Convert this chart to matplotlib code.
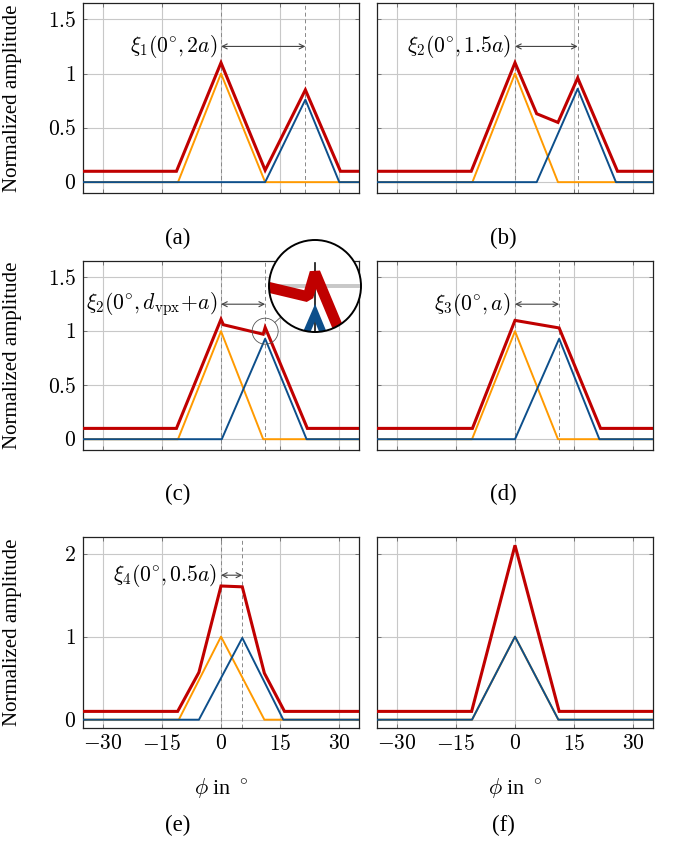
import numpy as np
import matplotlib
matplotlib.use("Agg")
import matplotlib.pyplot as plt
from matplotlib.patches import Circle
from matplotlib.lines import Line2D

plt.rcParams['font.family'] = ['Liberation Serif', 'DejaVu Serif']
plt.rcParams['mathtext.fontset'] = 'cm'
plt.rcParams['font.size'] = 15

RED = '#c00000'
BLUE = '#0d4f8b'
ORANGE = '#ff9a00'
GRID = '#c8c8c8'

# --- data (phi in degrees, normalized amplitude) ---
# (a)
phi_or_a = [-35, -10.9, 0, 11.2, 35]
amp_or_a = [0, 0, 1, 0, 0]
phi_bl_a = [-35, 11.2, 21.4, 30.0, 35]
amp_bl_a = [0, 0, 0.76, 0, 0]
phi_rd_a = [-35, -11.3, 0, 11.2, 21.4, 30.3, 35]
amp_rd_a = [0.1, 0.1, 1.1, 0.11, 0.85, 0.1, 0.1]
# (b)
phi_or_b = [-35, -10.8, 0, 10.9, 35]
amp_or_b = [0, 0, 1, 0, 0]
phi_bl_b = [-35, 5.5, 15.9, 25.6, 35]
amp_bl_b = [0, 0, 0.86, 0, 0]
phi_rd_b = [-35, -11.1, 0, 5.5, 10.9, 15.9, 26.0, 35]
amp_rd_b = [0.1, 0.1, 1.1, 0.63, 0.55, 0.96, 0.1, 0.1]
# (c)
phi_or_c = [-35, -10.9, 0, 10.7, 35]
amp_or_c = [0, 0, 1, 0, 0]
phi_bl_c = [-35, 0.2, 11.2, 21.7, 35]
amp_bl_c = [0, 0, 0.93, 0, 0]
phi_rd_c = [-35, -11.3, 0, 0.6, 10.7, 11.2, 21.9, 35]
amp_rd_c = [0.1, 0.1, 1.11, 1.06, 0.972, 1.035, 0.1, 0.1]
# (d)
phi_or_d = [-35, -10.9, 0, 10.9, 35]
amp_or_d = [0, 0, 1, 0, 0]
phi_bl_d = [-35, 0, 11.2, 21.4, 35]
amp_bl_d = [0, 0, 0.93, 0, 0]
phi_rd_d = [-35, -10.8, 0, 11.2, 21.7, 35]
amp_rd_d = [0.1, 0.1, 1.1, 1.03, 0.1, 0.1]
# (e)
phi_or_e = [-35, -10.7, 0, 11.0, 35]
amp_or_e = [0, 0, 1, 0, 0]
phi_bl_e = [-35, -5.6, 5.4, 15.8, 35]
amp_bl_e = [0, 0, 0.985, 0, 0]
phi_rd_e = [-35, -11.0, -5.6, 0, 5.4, 11.0, 16.1, 35]
amp_rd_e = [0.1, 0.1, 0.57, 1.61, 1.6, 0.56, 0.1, 0.1]
# (f)
phi_or_f = [-35, -10.9, 0, 11.0, 35]
amp_or_f = [0, 0, 1, 0, 0]
phi_bl_f = [-35, -10.9, 0, 11.0, 35]
amp_bl_f = [0, 0, 1, 0, 0]
phi_rd_f = [-35, -11.0, 0, 11.2, 35]
amp_rd_f = [0.1, 0.1, 2.1, 0.1, 0.1]

peak_pos = [21.4, 15.9, 11.2, 11.2, 5.4, None]
annot = [r'$\xi_1(0^{\!\circ}\!, 2a)$', r'$\xi_2(0^{\!\circ}\!, 1.5a)$',
         r'$\xi_2(0^{\!\circ}\!, d_{\mathrm{vpx}}\!+\!a)$', r'$\xi_3(0^{\!\circ}\!, a)$',
         r'$\xi_4(0^{\!\circ}\!, 0.5a)$', None]
captions = ['(a)', '(b)', '(c)', '(d)', '(e)', '(f)']
xticks = [-30, -15, 0, 15, 30]
xticklabels = [r'$-30$', r'$-15$', r'$0$', r'$15$', r'$30$']

series = [
    (phi_or_a, amp_or_a, phi_bl_a, amp_bl_a, phi_rd_a, amp_rd_a),
    (phi_or_b, amp_or_b, phi_bl_b, amp_bl_b, phi_rd_b, amp_rd_b),
    (phi_or_c, amp_or_c, phi_bl_c, amp_bl_c, phi_rd_c, amp_rd_c),
    (phi_or_d, amp_or_d, phi_bl_d, amp_bl_d, phi_rd_d, amp_rd_d),
    (phi_or_e, amp_or_e, phi_bl_e, amp_bl_e, phi_rd_e, amp_rd_e),
    (phi_or_f, amp_or_f, phi_bl_f, amp_bl_f, phi_rd_f, amp_rd_f),
]

W, H = 673, 842
fig = plt.figure(figsize=(W / 100, H / 100), dpi=100)


def px_axes(left, top, right, bottom):
    return fig.add_axes([left / W, 1 - bottom / H, (right - left) / W, (bottom - top) / H])


boxes = [(83, 3, 359, 193), (377, 3, 653, 193),
         (83, 261, 359, 450), (377, 261, 653, 450),
         (83, 537, 359, 728), (377, 537, 653, 728)]
cap_pos = [(178, 238), (503, 238), (178, 494), (503, 494), (178, 825), (503, 825)]

axes = []
for i, box in enumerate(boxes):
    ax = px_axes(*box)
    axes.append(ax)
    po, ao, pb, ab, pr, ar = series[i]
    top_row = i < 4
    ax.set_xlim(-35, 35)
    if top_row:
        ax.set_ylim(-0.1, 1.65)
        yt = [0, 0.5, 1, 1.5]
        ytl = [r'$0$', r'$0.5$', r'$1$', r'$1.5$']
    else:
        ax.set_ylim(-0.1, 2.2)
        yt = [0, 1, 2]
        ytl = [r'$0$', r'$1$', r'$2$']
    ax.set_xticks(xticks)
    ax.set_yticks(yt)
    ax.grid(True, color=GRID, lw=0.8)
    ax.set_axisbelow(True)
    ax.tick_params(direction='in', length=3, width=0.6, color='#666666',
                   top=True, right=True, labelsize=15.5, pad=5)
    if i % 2 == 0:
        ax.set_yticklabels(ytl)
        ax.set_ylabel('Normalized amplitude', fontsize=15)
        ax.yaxis.set_label_coords((22 - box[0]) / (box[2] - box[0]), 0.5)
    else:
        ax.set_yticklabels([])
    if i >= 4:
        ax.set_xticklabels(xticklabels)
        ax.set_xlabel(r'$\phi$ in $^\circ$', fontsize=16)
        ax.xaxis.set_label_coords(0.5, (box[3] - 776) / (box[3] - box[1]))
    else:
        ax.set_xticklabels([])
    for s in ax.spines.values():
        s.set_linewidth(0.9)
        s.set_color('#222222')

    if peak_pos[i] is not None:
        for xv in (0, peak_pos[i]):
            ax.axvline(xv, color='#888888', lw=0.7, ls=(0, (4, 3)), zorder=1)
    ax.plot(po, ao, color=ORANGE, lw=1.4, zorder=2)
    ax.plot(pb, ab, color=BLUE, lw=1.4, zorder=3)
    ax.plot(pr, ar, color=RED, lw=2.2, zorder=4, solid_joinstyle='miter')

    if annot[i] is not None:
        ya = 1.25 if top_row else 1.74
        ax.annotate('', xy=(peak_pos[i], ya), xytext=(0, ya),
                    arrowprops=dict(arrowstyle='<->', color='#444444', lw=0.8,
                                    shrinkA=0, shrinkB=0, mutation_scale=9))
        ax.text(-1.0, ya, annot[i], ha='right', va='center', fontsize=15.5)

    cx, cy = cap_pos[i]
    fig.text(cx / W, 1 - cy / H, captions[i], ha='center', va='center', fontsize=16.5)

# --- spy inset on panel (c) ---
axc = axes[2]
small_c = (11.2, 1.0)
cx_px, cy_px = axc.transData.transform(small_c)
r_small = 13
r_big = 46
big_cx, big_cy = 315, 286
mag = r_big / r_small

fig.add_artist(Circle((cx_px, cy_px), r_small, transform=None, fill=False,
                      ec='#555555', lw=0.6, zorder=10))
ux, uy = big_cx - cx_px, (H - big_cy) - cy_px
nrm = np.hypot(ux, uy)
ux, uy = ux / nrm, uy / nrm
fig.add_artist(Line2D([cx_px + r_small * ux, big_cx - r_big * ux],
                      [cy_px + r_small * uy, (H - big_cy) - r_big * uy],
                      transform=None, color='#555555', lw=0.6, zorder=10))

ins = px_axes(big_cx - r_big, big_cy - r_big, big_cx + r_big, big_cy + r_big)
ins.set_zorder(20)
ins.patch.set_visible(False)
for s in ins.spines.values():
    s.set_visible(False)
ins.set_xticks([])
ins.set_yticks([])
dx = r_big / mag / (276 / 70)
dy = r_big / mag / (189 / 1.75)
ins.set_xlim(small_c[0] - dx, small_c[0] + dx)
ins.set_ylim(small_c[1] - dy, small_c[1] + dy)
ins.add_patch(Circle((0.5, 0.5), 0.5, transform=ins.transAxes, fc='white', ec='none', zorder=0))
clip = Circle((0.5, 0.5), 0.5, transform=ins.transAxes)
arts = []
arts.append(ins.axhline(1.0, color=GRID, lw=0.8 * mag, zorder=1))
arts.append(ins.axvline(11.2, ymax=0.75, color='#111111', lw=1.2, zorder=1))
arts += ins.plot(phi_or_c, amp_or_c, color=ORANGE, lw=1.4 * mag, zorder=2,
                 solid_joinstyle='miter')
arts += ins.plot(phi_bl_c, amp_bl_c, color=BLUE, lw=1.4 * mag, zorder=3,
                 solid_joinstyle='miter')
arts += ins.plot(phi_rd_c, amp_rd_c, color=RED, lw=2.2 * mag, zorder=4,
                 solid_joinstyle='bevel')
for a in arts:
    a.set_clip_path(clip)
ins.add_patch(Circle((0.5, 0.5), 0.5, transform=ins.transAxes, fill=False,
                     ec='black', lw=1.4, zorder=6, clip_on=False))

fig.savefig('out.png', dpi=100)
